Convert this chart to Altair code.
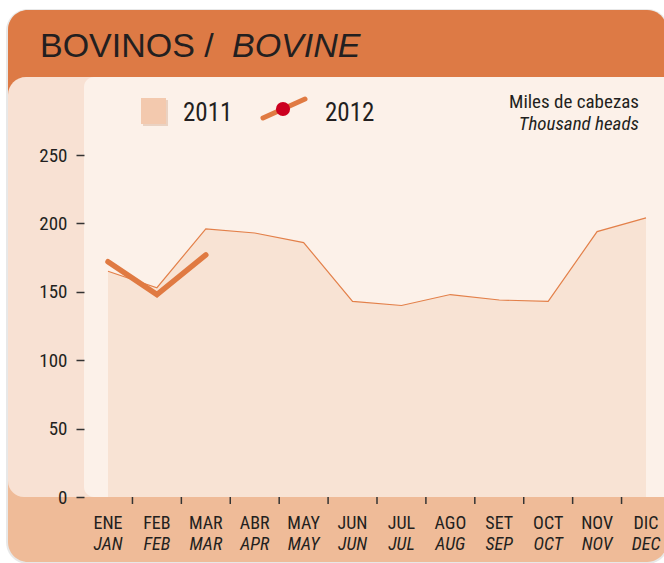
import altair as alt
import pandas as pd

# ---- data ----
months_es = ["ENE", "FEB", "MAR", "ABR", "MAY", "JUN", "JUL", "AGO", "SET", "OCT", "NOV", "DIC"]
months_en = ["JAN", "FEB", "MAR", "APR", "MAY", "JUN", "JUL", "AUG", "SEP", "OCT", "NOV", "DEC"]
values_2011 = [165, 153, 196, 193, 186, 143, 140, 148, 144, 143, 194, 204]
values_2012 = [172, 148, 177]
series_names = ["2011", "2012"]
y_ticks = [0, 50, 100, 150, 200, 250]
title_es = "BOVINOS / "
title_en = "BOVINE"
unit_es = "Miles de cabezas"
unit_en = "Thousand heads"

NARROW = "Liberation Sans Narrow, Arial Narrow, Roboto Condensed, sans-serif"
SANS = "Liberation Sans, Arial, sans-serif"

df11 = pd.DataFrame({"idx": list(range(12)), "v": values_2011,
                     "es": months_es, "en": months_en})
df12 = pd.DataFrame({"idx": list(range(len(values_2012))), "v": values_2012})
dfticks = pd.DataFrame({"idx": [i + 0.5 for i in range(11)]})
one = pd.DataFrame({"k": [0]})

xs = alt.Scale(domain=[0, 11], range=[24, 562])
ys = alt.Scale(domain=[0, 250], nice=False, zero=True)


def box(x, x2, y, y2, color, **kw):
    return alt.Chart(one).mark_rect(color=color, **kw).encode(
        x=alt.value(x), x2=alt.value(x2), y=alt.value(y), y2=alt.value(y2))


def label(text, x, y, size, font=NARROW, style="normal", align="left", color="#231f20"):
    return alt.Chart(one).mark_text(
        text=text, font=font, fontSize=size, fontStyle=style, align=align,
        baseline="alphabetic", color=color).encode(x=alt.value(x), y=alt.value(y))


# card / panels (pixel coords relative to plot origin at (84,155))
shadow = box(-78, 585, -146, 409, "#d9d9d9", cornerRadius=22, opacity=0.6)
card = box(-76, 583, -145, 407, "#efbb98", cornerRadius=20)
header = box(-76, 583, -145, -35, "#dd7a45", cornerRadius=20)
outer = box(-76, 600, -78, 342, "#f8e1d3", cornerRadiusTopLeft=18, cornerRadiusBottomLeft=16)
inner = box(0, 600, -78, 342, "#fcf1e9", cornerRadiusTopLeft=10, cornerRadiusBottomLeft=10)

area = alt.Chart(df11).mark_area(
    color="#f7ddcb", line={"color": "#e3804a", "strokeWidth": 1.2}
).encode(
    x=alt.X("idx:Q", scale=xs, axis=None),
    y=alt.Y("v:Q", scale=ys, title=None,
            axis=alt.Axis(values=y_ticks, grid=False, domain=False, tickSize=8,
                          tickWidth=1.5, tickColor="#333333", labelPadding=9,
                          labelFont=NARROW, labelFontSize=19, labelColor="#231f20",
                          zindex=2)),
)

line12 = alt.Chart(df12).mark_line(
    color="#e07a42", strokeWidth=5.5, strokeCap="round", strokeJoin="miter"
).encode(x=alt.X("idx:Q", scale=xs), y=alt.Y("v:Q", scale=ys))

ticks = alt.Chart(dfticks).mark_rule(color="#333333", strokeWidth=1.5).encode(
    x=alt.X("idx:Q", scale=xs), y=alt.value(342), y2=alt.value(349))

lab_es = alt.Chart(df11).mark_text(font=NARROW, fontSize=18, color="#231f20",
                                   baseline="alphabetic").encode(
    x=alt.X("idx:Q", scale=xs), y=alt.value(374), text="es:N")
lab_en = alt.Chart(df11).mark_text(font=NARROW, fontSize=18, fontStyle="italic",
                                   color="#231f20", baseline="alphabetic").encode(
    x=alt.X("idx:Q", scale=xs), y=alt.value(395), text="en:N")

# legend
leg_sh = box(59, 84, -55, -29, "#d8b49c", opacity=0.5)
leg_sq = box(57, 82, -57, -31, "#f3c9ae")
leg_txt1 = label(series_names[0], 99, -34, 25)
leg_line = alt.Chart(one).mark_rule(color="#e07a42", strokeWidth=5, strokeCap="round").encode(
    x=alt.value(179), y=alt.value(-37), x2=alt.value(221), y2=alt.value(-56))
leg_dot = alt.Chart(one).mark_point(filled=True, color="#cc0020", size=200, opacity=1).encode(
    x=alt.value(199), y=alt.value(-46))
leg_txt2 = label(series_names[1], 241, -34, 25)

unit1 = label(unit_es, 555, -47, 19, align="right")
unit2 = label(unit_en, 555, -25, 19, style="italic", align="right")

t1 = label(title_es, -44, -98, 34, font=SANS)
t2 = label(title_en, 148, -98, 34, font=SANS, style="italic")

chart = alt.layer(
    shadow, card, header, outer, inner, area, line12, ticks, lab_es, lab_en,
    leg_sh, leg_sq, leg_txt1, leg_line, leg_dot, leg_txt2, unit1, unit2, t1, t2
).properties(
    width=580, height=342,
    padding={"left": 84, "top": 155, "right": 0, "bottom": 66},
    autosize=alt.AutoSizeParams(type="none"),
    background="white",
).configure_view(stroke=None)

chart.save("out.html", embed_options={"renderer": "svg", "actions": False})
